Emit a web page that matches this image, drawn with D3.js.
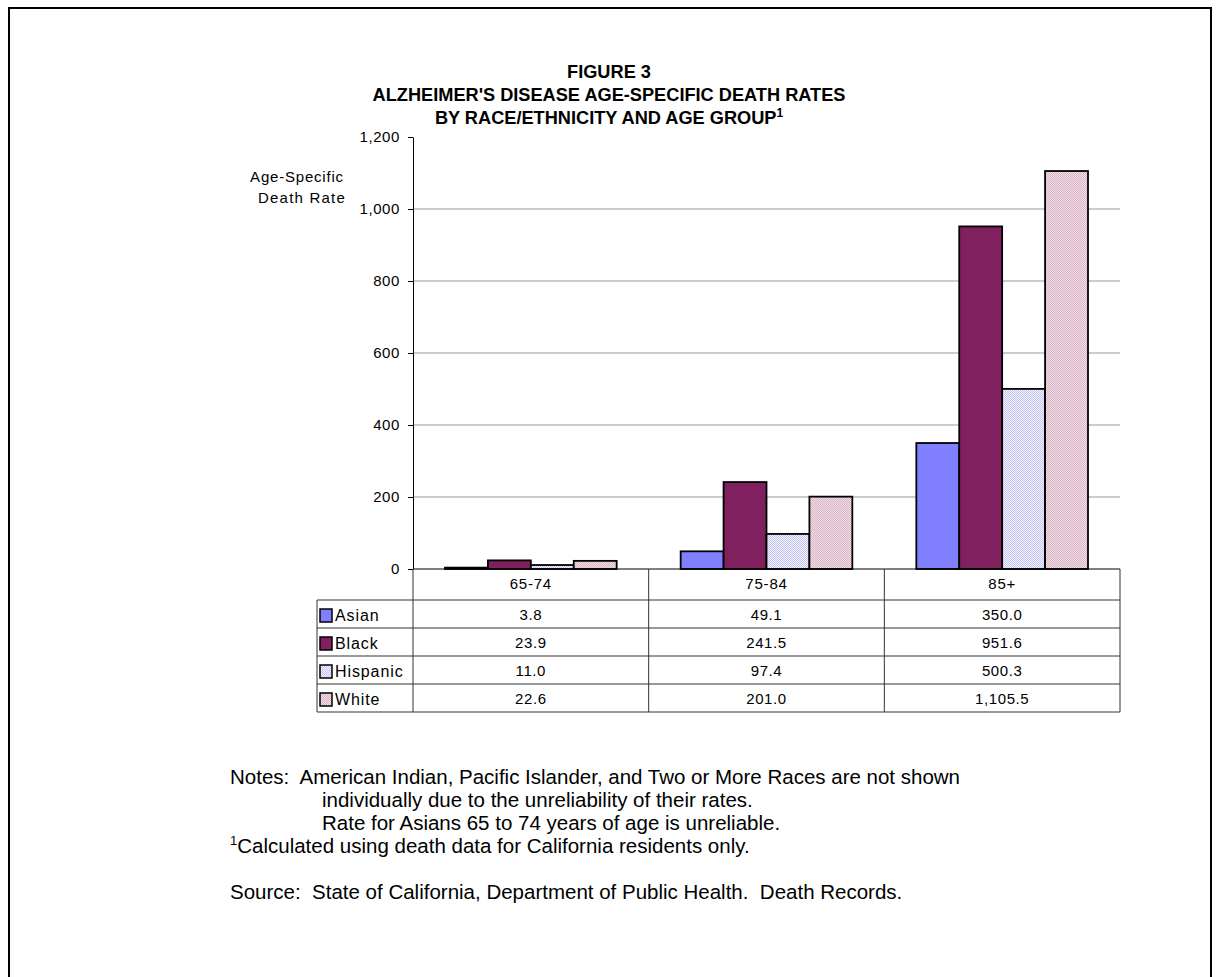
<!DOCTYPE html>
<html><head><meta charset="utf-8">
<script src="https://cdn.jsdelivr.net/npm/d3@7"></script>
<style>
html,body{margin:0;padding:0;background:#fff;}
svg text{font-family:Arial,"Liberation Sans",sans-serif;fill:#000;white-space:pre;}
</style></head>
<body><svg id="c" width="1217" height="977"></svg>
<script>
const categories = ["65-74", "75-84", "85+"];
const seriesNames = ["Asian", "Black", "Hispanic", "White"];
const asian = [3.8, 49.1, 350.0];
const black = [23.9, 241.5, 951.6];
const hispanic = [11.0, 97.4, 500.3];
const white = [22.6, 201.0, 1105.5];
const yTicks = [0, 200, 400, 600, 800, 1000, 1200];
const titleLines = ["FIGURE 3", "ALZHEIMER'S DISEASE AGE-SPECIFIC DEATH RATES", "BY RACE/ETHNICITY AND AGE GROUP"];
const notes = [
  "Notes:  American Indian, Pacific Islander, and Two or More Races are not shown",
  "individually due to the unreliability of their rates.",
  "Rate for Asians 65 to 74 years of age is unreliable."
];
const footnote = "Calculated using death data for California residents only.";
const source = "Source:  State of California, Department of Public Health.  Death Records.";

const seriesValues = [asian, black, hispanic, white];
const fills = ["#8080ff", "#80205f", "url(#pHisp)", "url(#pWhite)"];

const svg = d3.select("#c");
const defs = svg.append("defs");
function pat(id, base, dot) {
  const p = defs.append("pattern").attr("id", id).attr("patternUnits", "userSpaceOnUse").attr("width", 2).attr("height", 2);
  p.append("rect").attr("width", 2).attr("height", 2).attr("fill", base);
  p.append("rect").attr("width", 1).attr("height", 1).attr("fill", dot);
  p.append("rect").attr("x", 1).attr("y", 1).attr("width", 1).attr("height", 1).attr("fill", dot);
}
pat("pHisp", "#f4f4ff", "#c4c4f4");
pat("pWhite", "#f2dee6", "#d8b4c4");

// outer border
svg.append("rect").attr("x", 9).attr("y", 8).attr("width", 1202).attr("height", 1000)
  .attr("fill", "none").attr("stroke", "#000").attr("stroke-width", 2);

// title
titleLines.forEach((t, i) => {
  const tx = svg.append("text").attr("x", 609).attr("y", 78 + i * 23).attr("text-anchor", "middle")
    .attr("font-size", 18.2).attr("font-weight", "bold").text(t);
  if (i === 2) tx.append("tspan").attr("font-size", 12).attr("dy", -7).text("1");
});

const L = 413, R = 1120, T = 137, B = 569;
const x0 = d3.scaleBand().domain(categories).range([L, R]);
const x1 = d3.scaleBand().domain(seriesNames).range([32, x0.bandwidth() - 32]);
const y = d3.scaleLinear().domain([0, 1200]).range([B, T]);

// gridlines
svg.append("g").selectAll("line").data(yTicks.filter(v => v > 0 && v < 1200)).join("line")
  .attr("x1", L).attr("x2", R).attr("y1", d => y(d)).attr("y2", d => y(d))
  .attr("stroke", "#999").attr("stroke-width", 1);

// bars
const bg = svg.append("g");
seriesNames.forEach((s, si) => {
  bg.selectAll(null).data(categories).join("rect")
    .attr("x", c => x0(c) + x1(s))
    .attr("width", x1.bandwidth())
    .attr("y", (c, ci) => y(seriesValues[si][ci]))
    .attr("height", (c, ci) => B - y(seriesValues[si][ci]))
    .attr("fill", fills[si]).attr("stroke", "#000").attr("stroke-width", 1.8);
});

// y axis
const yAxis = d3.axisLeft(y).tickValues(yTicks).tickFormat(d3.format(",")).tickSize(5).tickSizeOuter(0).tickPadding(8);
const ya = svg.append("g").attr("transform", `translate(${L},0)`).call(yAxis);
ya.selectAll("text").attr("font-size", 15).attr("letter-spacing", 0.6).style("font-family", "Arial, 'Liberation Sans', sans-serif");
ya.select(".domain").attr("stroke", "#000");
ya.selectAll(".tick line").attr("stroke", "#000");

// y label
svg.append("text").attr("x", 297).attr("y", 182).attr("text-anchor", "middle").attr("font-size", 15).attr("letter-spacing", 0.8).text("Age-Specific");
svg.append("text").attr("x", 302).attr("y", 203).attr("text-anchor", "middle").attr("font-size", 15).attr("letter-spacing", 1.2).text("Death Rate");

// baseline axis
svg.append("line").attr("x1", L).attr("x2", R).attr("y1", B).attr("y2", B).attr("stroke", "#000");

// data table
const rowH = 28;
const headTop = B, tableTop = 600;
const tbl = svg.append("g").attr("stroke", "#333").attr("stroke-width", 1);
const legL = 317;
for (let r = 0; r <= seriesNames.length; r++) {
  const yy = tableTop + r * rowH;
  tbl.append("line").attr("x1", legL).attr("x2", R).attr("y1", yy).attr("y2", yy);
}
const tableBottom = tableTop + seriesNames.length * rowH;
tbl.append("line").attr("x1", legL).attr("x2", legL).attr("y1", tableTop).attr("y2", tableBottom);
[L, ...categories.map(c => x0(c) + x0.bandwidth())].forEach(xx => {
  tbl.append("line").attr("x1", xx).attr("x2", xx).attr("y1", headTop).attr("y2", tableBottom);
});
svg.append("g").selectAll("text").data(categories).join("text")
  .attr("x", c => x0(c) + x0.bandwidth() / 2).attr("y", headTop + 20)
  .attr("text-anchor", "middle").attr("font-size", 15).attr("letter-spacing", 0.8).text(c => c);
const fmt = d3.format(",.1f");
seriesNames.forEach((s, si) => {
  const ry = tableTop + si * rowH;
  svg.append("rect").attr("x", 320).attr("y", ry + 9).attr("width", 12).attr("height", 13)
    .attr("fill", fills[si]).attr("stroke", "#000").attr("stroke-width", 1.5);
  svg.append("text").attr("x", 335).attr("y", ry + 21).attr("font-size", 16).attr("letter-spacing", 0.9).text(s);
  categories.forEach((c, ci) => {
    svg.append("text").attr("x", x0(c) + x0.bandwidth() / 2).attr("y", ry + 20)
      .attr("text-anchor", "middle").attr("font-size", 15).attr("letter-spacing", 0.6).text(fmt(seriesValues[si][ci]));
  });
});

// notes
const nx = 230, fs = 20.5;
svg.append("text").attr("x", nx).attr("y", 784).attr("font-size", fs).text(notes[0]);
svg.append("text").attr("x", 322).attr("y", 807).attr("font-size", fs).text(notes[1]);
svg.append("text").attr("x", 322).attr("y", 830).attr("font-size", fs).text(notes[2]);
const fn = svg.append("text").attr("x", nx).attr("y", 853).attr("font-size", fs);
fn.append("tspan").attr("font-size", 13).attr("dy", -8).text("1");
fn.append("tspan").attr("dy", 8).text(footnote);
svg.append("text").attr("x", nx).attr("y", 899).attr("font-size", fs).text(source);
</script></body></html>
